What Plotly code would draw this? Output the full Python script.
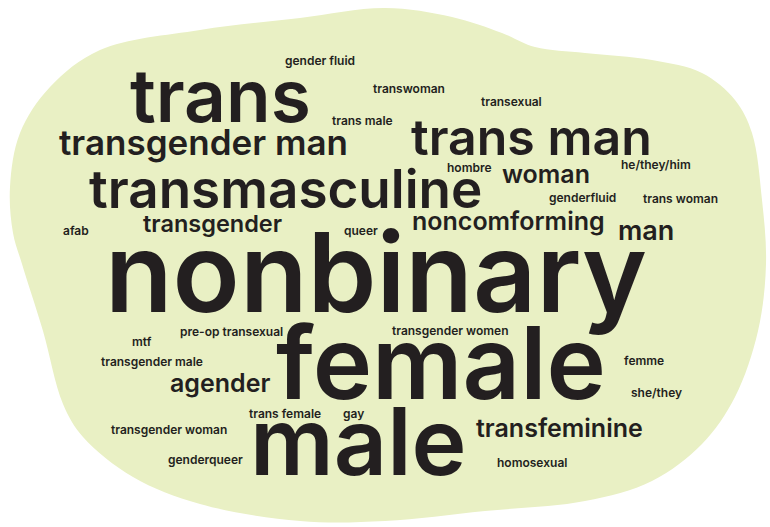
import plotly.graph_objects as go

# word cloud data: term and relative frequency (drives font size)
words = ["nonbinary", "female", "male", "trans", "transmasculine", "trans man",
         "transgender man", "noncomforming", "agender", "transgender", "woman",
         "transfeminine", "man",
         "gender fluid", "transwoman", "transexual", "trans male", "hombre",
         "he/they/him", "genderfluid", "trans woman", "afab", "queer", "mtf",
         "pre-op transexual", "transgender women", "transgender male", "femme",
         "she/they", "trans female", "gay", "transgender woman", "genderqueer",
         "homosexual"]
frequency = [110.5, 100.5, 93, 73, 53, 50, 35, 25, 25, 23.5, 25, 25, 27,
             12, 12, 12, 12, 12, 12, 12, 12, 12, 12, 12,
             12, 12, 12, 12, 12, 12, 12, 12, 12, 12]

# layout: horizontal centre and baseline of each word (pixels on the 770x527 canvas)
pos_x = [376, 441, 358, 220, 285, 531, 203, 508, 220, 212, 546, 559, 646,
         320, 409, 511, 362, 469, 656, 582, 680, 76, 361, 142,
         231, 450, 152, 644, 656, 285, 353, 169, 205, 532]
baseline = [312, 399, 474, 122, 208, 155, 155, 230, 392, 232, 183, 437, 240,
            65, 93, 106, 125, 172, 169, 202, 203, 235, 235, 346,
            336, 335, 366, 365, 397, 418, 418, 434, 464, 467]

# blob outline
blob_x = [385, 452, 502, 535, 585, 652, 702, 735, 752, 762, 766, 758, 735, 702,
          652, 585, 485, 385, 300, 200, 133, 83, 63, 43, 22, 13, 10, 20, 50, 100,
          200, 300, 385]
blob_y = [8, 17, 33, 47, 53, 60, 73, 100, 133, 200, 264, 331, 397, 444,
          481, 501, 511, 521, 521, 504, 477, 437, 404, 331, 264, 233, 187, 133, 87, 50,
          30, 18, 8]

SIZE_SCALE = 1.0
BASELINE_SHIFT = 0.36   # baseline sits this fraction of the font size below the box centre
FONT = "Inter"
INK = "#231F20"
BLOB = "#E9F0C4"

fig = go.Figure()
fig.add_trace(go.Scatter(x=blob_x, y=blob_y, mode="lines", fill="toself",
                         line=dict(shape="spline", smoothing=1.0, color=BLOB, width=0),
                         fillcolor=BLOB, hoverinfo="skip", showlegend=False))

for w, f, x, b in zip(words, frequency, pos_x, baseline):
    size = f * SIZE_SCALE
    fig.add_annotation(x=x, y=b - BASELINE_SHIFT * size, text=w, showarrow=False,
                       xanchor="center", yanchor="middle",
                       font=dict(family=FONT, size=size, color=INK, weight=600))

fig.update_layout(width=770, height=527, margin=dict(l=0, r=0, t=0, b=0),
                  paper_bgcolor="white", plot_bgcolor="white",
                  xaxis=dict(range=[0, 770], visible=False, fixedrange=True),
                  yaxis=dict(range=[527, 0], visible=False, fixedrange=True),
                  showlegend=False)
fig.write_html("out.html", config={"displayModeBar": False},
               post_script="document.body.style.margin='0';document.body.style.overflow='hidden';")
